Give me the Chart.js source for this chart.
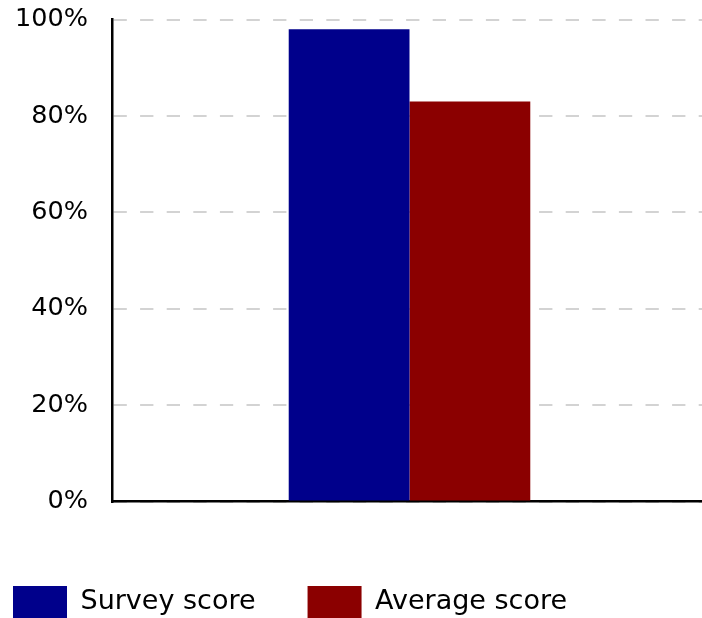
<!DOCTYPE html>
<html>
<head>
<meta charset="utf-8">
<script src="https://cdn.jsdelivr.net/npm/chart.js@4.4.1/dist/chart.umd.min.js"></script>
<style>
  html, body { margin: 0; padding: 0; background: #fff; overflow: hidden; }
  #wrap { width: 702px; height: 618px; position: relative; overflow: hidden; }
  #c { display: block; }
</style>
</head>
<body>
<div id="wrap"><canvas id="c" width="707" height="618"></canvas></div>
<script>
const categories = [''];
const seriesNames = ['Survey score', 'Average score'];
const surveyScore = [98];
const averageScore = [83];
const yTickValues = [0, 20, 40, 60, 80, 100];

Chart.defaults.font.family = "'DejaVu Sans', sans-serif";
Chart.defaults.color = '#000';

new Chart(document.getElementById('c'), {
  type: 'bar',
  data: {
    labels: categories,
    datasets: [
      { label: seriesNames[0], data: surveyScore, backgroundColor: '#00008B', borderWidth: 0 },
      { label: seriesNames[1], data: averageScore, backgroundColor: '#8B0000', borderWidth: 0 }
    ]
  },
  options: {
    responsive: false,
    animation: false,
    devicePixelRatio: 1,
    layout: { padding: { left: -39, right: 0, top: 19.5, bottom: -10 } },
    datasets: { bar: { categoryPercentage: 0.406, barPercentage: 1 } },
    scales: {
      x: {
        grid: { display: false },
        ticks: { display: false },
        border: { display: true, color: '#000', width: 2.5 },
        afterFit: (s) => { s.height = 32.5; }
      },
      y: {
        min: 0, max: 100,
        afterBuildTicks: (s) => { s.ticks = yTickValues.map(v => ({ value: v })); },
        ticks: {
          padding: 0,
          font: { size: 25.5 },
          color: '#000',
          callback: (v) => v + '%'
        },
        grid: { color: '#d3d3d3', lineWidth: 2, drawTicks: true, tickLength: 24, tickColor: 'rgba(0,0,0,0)' },
        border: { display: true, color: '#000', width: 2.5, dash: [13.3, 13.3] },
        afterFit: (s) => { s.width = 151; }
      }
    },
    plugins: {
      legend: {
        position: 'bottom',
        align: 'start',
        labels: {
          boxWidth: 54,
          boxHeight: 32,
          padding: 52,
          color: '#000',
          font: { size: 27 }
        }
      },
      tooltip: { enabled: false }
    }
  }
});
</script>
</body>
</html>
